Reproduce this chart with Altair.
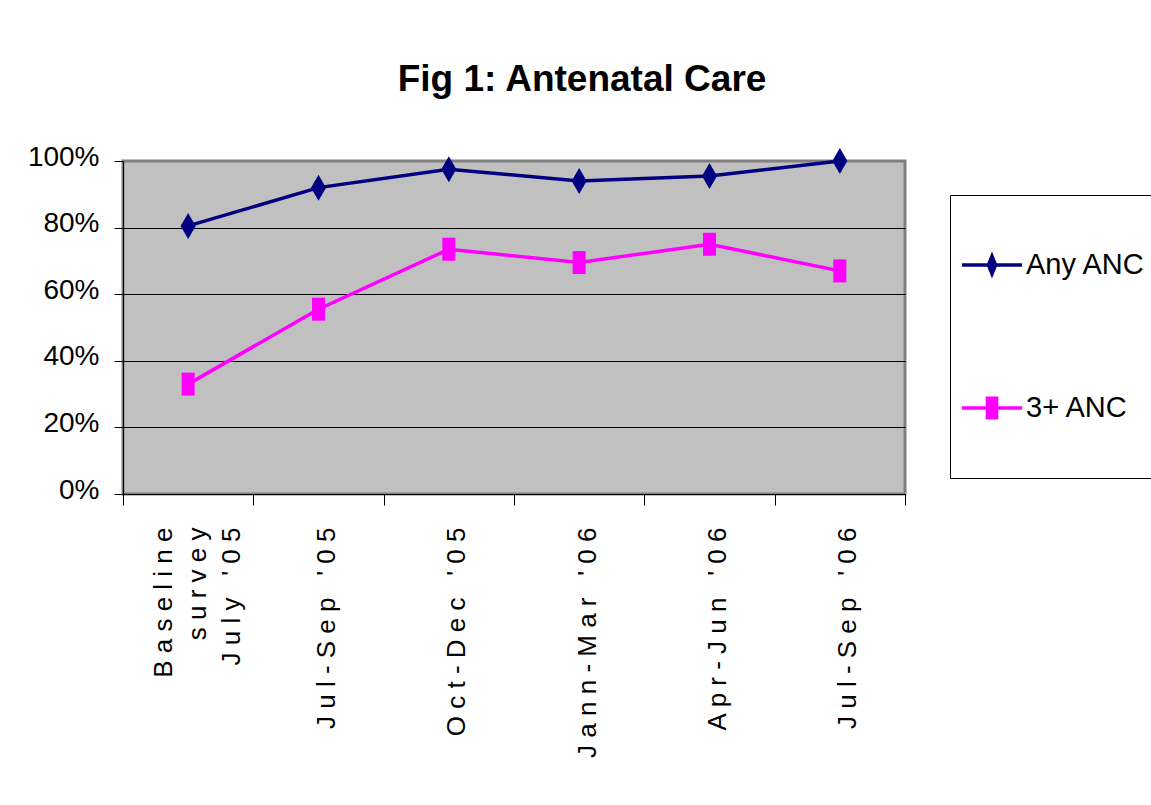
import altair as alt
import pandas as pd

# Survey periods (x categories) and the two antenatal-care series (shares of women)
periods = ["Baseline survey July '05", "Jul-Sep '05", "Oct-Dec '05",
           "Jann-Mar '06", "Apr-Jun '06", "Jul-Sep '06"]
any_anc = [0.805, 0.92, 0.975, 0.94, 0.955, 1.00]
anc_3plus = [0.33, 0.555, 0.735, 0.695, 0.75, 0.67]

series_names = ["Any ANC", "3+ ANC"]
series_colors = ["#000080", "#FF00FF"]
y_ticks = [0, 0.2, 0.4, 0.6, 0.8, 1.0]

rows = []
for period, a, b in zip(periods, any_anc, anc_3plus):
    rows.append({"period": period, "series": "Any ANC", "share": a})
    rows.append({"period": period, "series": "3+ ANC", "share": b})
df = pd.DataFrame(rows)

FONT = "Liberation Sans, Arial, sans-serif"
NBSP = "\u00a0"

# Marker outlines for the plotted points (tall diamond / tall rectangle)
marker_paths = {
    "Any ANC": "M0,-1L0.58,0L0,1L-0.58,0Z",
    "3+ ANC": "M-0.5,-0.885L0.5,-0.885L0.5,0.885L-0.5,0.885Z",
}
# Legend keys: a short line with the marker sitting on it
legend_paths = [
    "M-1,-0.055L1,-0.055L1,0.055L-1,0.055Z M0,-0.45L0.18,0L0,0.45L-0.18,0Z",
    "M-1,-0.055L1,-0.055L1,0.055L-1,0.055Z M-0.21,-0.38L0.21,-0.38L0.21,0.38L-0.21,0.38Z",
]

color_scale = alt.Scale(domain=series_names, range=series_colors)

# Letter-spaced tick labels; the long baseline label wraps onto three lines
x_label_expr = (
    "split(join(split(replace(datum.label, \" '\", '" + NBSP + "\\''), ''), ' '), "
    "regexp('   (?=[A-Za-z])'))"
)

x_enc = alt.X(
    "period:N",
    sort=periods,
    scale=alt.Scale(type="band", domain=periods, paddingInner=0, paddingOuter=0),
    axis=alt.Axis(
        title=None,
        labelAngle=270,
        labelAlign="right",
        labelBaseline="middle",
        labelFont=FONT,
        labelFontSize=26,
        labelColor="black",
        labelPadding=22,
        labelOffset={"condition": {"test": "indexof(datum.label, 'Baseline') === 0", "value": -25}, "value": 8},
        labelLimit=400,
        labelOverlap=False,
        labelLineHeight=34,
        labelExpr=x_label_expr,
        tickBand="extent",
        tickSize=11,
        tickColor="black",
        domainColor="black",
        grid=False,
    ),
)

y_enc = alt.Y(
    "share:Q",
    scale=alt.Scale(domain=[0, 1], nice=False),
    axis=alt.Axis(
        title=None,
        values=y_ticks,
        format=".0%",
        labelFont=FONT,
        labelFontSize=28,
        labelColor="black",
        labelPadding=15,
        labelOffset=-4,
        tickSize=9,
        tickColor="black",
        domainColor="black",
        grid=True,
        gridColor="black",
        gridWidth=1,
        gridOpacity={"condition": {"test": "datum.value >= 1 || datum.value <= 0", "value": 0}, "value": 1},
    ),
)

base = alt.Chart(df)

legend = alt.Legend(
    title=None,
    orient="none",
    legendX=827,
    legendY=34,
    direction="vertical",
    strokeColor="black",
    fillColor="white",
    padding=12,
    clipHeight=116,
    rowPadding=27,
    symbolSize=3600,
    symbolStrokeWidth=0,
    labelFont=FONT,
    labelFontSize=29,
    labelColor="black",
    labelOffset=4,
    labelLimit=300,
)

# Layer that carries the legend only (no marks of its own)
legend_layer = base.transform_filter("false").mark_point(filled=True, opacity=1).encode(
    x=x_enc,
    y=y_enc,
    color=alt.Color("series:N", scale=color_scale, legend=legend),
    shape=alt.Shape("series:N", scale=alt.Scale(domain=series_names, range=legend_paths), legend=legend),
)

lines = base.mark_line(strokeWidth=3.5).encode(
    x=x_enc,
    y=y_enc,
    color=alt.Color("series:N", scale=color_scale, legend=None),
)

marker_layers = [
    base.transform_filter(alt.datum.series == name)
    .mark_point(filled=True, opacity=1, size=676, strokeWidth=0, shape=marker_paths[name])
    .encode(
        x=x_enc,
        y=y_enc,
        color=alt.Color("series:N", scale=color_scale, legend=None),
    )
    for name in series_names
]

chart = (
    alt.layer(legend_layer, lines, *marker_layers)
    .properties(
        width=782,
        height=333,
        autosize=alt.AutoSizeParams(type="none"),
        padding={"left": 123, "top": 161, "right": 246, "bottom": 311},
        title=alt.Title(
            "Fig 1: Antenatal Care",
            font=FONT,
            fontSize=37,
            fontWeight="bold",
            color="black",
            anchor="middle",
            frame="group",
            dx=68,
            offset=44,
        ),
    )
    .configure(background="white")
    .configure_view(fill="#C0C0C0", stroke="#808080", strokeWidth=3)
)

chart.save("out.html", embed_options={"renderer": "svg", "actions": False})
